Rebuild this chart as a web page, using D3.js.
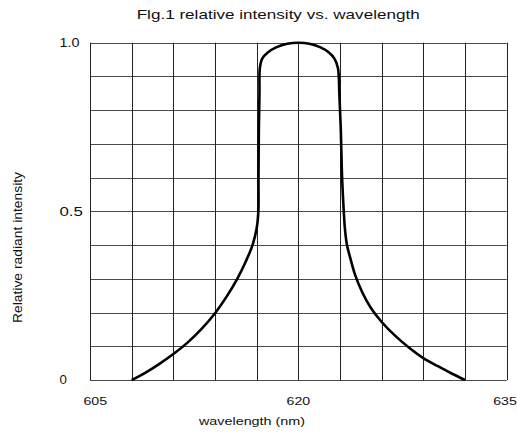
<!DOCTYPE html>
<html>
<head>
<meta charset="utf-8">
<script src="https://cdn.jsdelivr.net/npm/d3@7"></script>
<style>
  html, body { margin: 0; padding: 0; background: #fff; }
  svg { display: block; }
  text { font-family: "Liberation Sans", Arial, sans-serif; fill: #111; }
</style>
</head>
<body>
<svg id="chart" width="517" height="433"></svg>
<script>
// ---- data ----
const wavelength = [608, 609, 610, 611, 612, 613, 614, 614.8, 615.6, 616.2, 616.7, 617.0, 617.12, 617.13, 617.16, 617.2, 617.23, 617.4, 617.8, 618.4, 619.2, 620, 620.8, 621.6, 622.2, 622.6, 622.85, 622.95, 623.05, 623.15, 623.27, 623.35, 623.5, 623.75, 624.1, 624.6, 625.2, 626, 627, 628, 629, 630, 631, 632];
const intensity  = [0, 0.022, 0.048, 0.077, 0.11, 0.15, 0.198, 0.245, 0.3, 0.35, 0.4, 0.45, 0.5, 0.6, 0.75, 0.85, 0.925, 0.953, 0.971, 0.986, 0.997, 1.0, 0.997, 0.986, 0.971, 0.953, 0.925, 0.85, 0.75, 0.6, 0.5, 0.45, 0.4, 0.36, 0.31, 0.26, 0.215, 0.172, 0.13, 0.095, 0.065, 0.042, 0.02, 0];
const xTickLabels = [605, 620, 635];
const yTickLabels = ["1.0", "0.5", "0"];
const yTickValues = [1.0, 0.5, 0];
const xGridValues = d3.range(605, 635.01, 3);
const yGridValues = d3.range(0, 1.001, 0.1);
const titleText = "Flg.1 relative intensity vs. wavelength";
const xLabel = "wavelength (nm)";
const yLabel = "Relative radiant intensity";

// ---- layout ----
const svg = d3.select("#chart");
const x = d3.scaleLinear().domain([605, 635]).range([90, 506.7]);
const y = d3.scaleLinear().domain([0, 1]).range([380, 42.7]);

// grid
svg.append("g").selectAll("line").data(yGridValues).join("line")
  .attr("x1", x(605)).attr("x2", x(635))
  .attr("y1", d => Math.round(y(d)) + 0.5).attr("y2", d => Math.round(y(d)) + 0.5)
  .attr("stroke", "#4a4a4a").attr("stroke-width", 1.1);
svg.append("g").selectAll("line").data(xGridValues).join("line")
  .attr("y1", y(1)).attr("y2", y(0))
  .attr("x1", d => Math.round(x(d)) + 0.5).attr("x2", d => Math.round(x(d)) + 0.5)
  .attr("stroke", "#222").attr("stroke-width", 1);

// curve
const pts = wavelength.map((w, i) => [w, intensity[i]]);
svg.append("path")
  .datum(pts)
  .attr("fill", "none")
  .attr("stroke", "#000")
  .attr("stroke-width", 2.6)
  .attr("stroke-linejoin", "round")
  .attr("d", d3.line().x(d => x(d[0])).y(d => y(d[1])).curve(d3.curveCatmullRom.alpha(0.5)));

// title
svg.append("text")
  .attr("x", 136.7).attr("y", 19.3)
  .attr("font-size", 13.5)
  .attr("textLength", 283).attr("lengthAdjust", "spacingAndGlyphs")
  .text(titleText);

// y tick labels
const yLabW = [20, 23.4, 7.4];
svg.append("g").selectAll("text").data(yTickValues).join("text")
  .attr("x", 59.5)
  .attr("y", d => y(d) + 4.3)
  .attr("font-size", 12)
  .attr("textLength", (d, i) => yLabW[i]).attr("lengthAdjust", "spacingAndGlyphs")
  .text((d, i) => yTickLabels[i]);

// x tick labels
const xDx = [5.3, 0, -1.7];
svg.append("g").selectAll("text").data(xTickLabels).join("text")
  .attr("x", (d, i) => x(d) + xDx[i] - 11.8)
  .attr("y", 405)
  .attr("font-size", 11.5)
  .attr("textLength", 23.6).attr("lengthAdjust", "spacingAndGlyphs")
  .text(d => d);

// x axis label
svg.append("text")
  .attr("x", 199).attr("y", 424.5)
  .attr("font-size", 11.5)
  .attr("textLength", 106).attr("lengthAdjust", "spacingAndGlyphs")
  .text(xLabel);

// y axis label
svg.append("text")
  .attr("transform", "translate(21.5,323) rotate(-90)")
  .attr("x", 0).attr("y", 0)
  .attr("font-size", 13.5)
  .attr("textLength", 151).attr("lengthAdjust", "spacingAndGlyphs")
  .text(yLabel);
</script>
</body>
</html>
